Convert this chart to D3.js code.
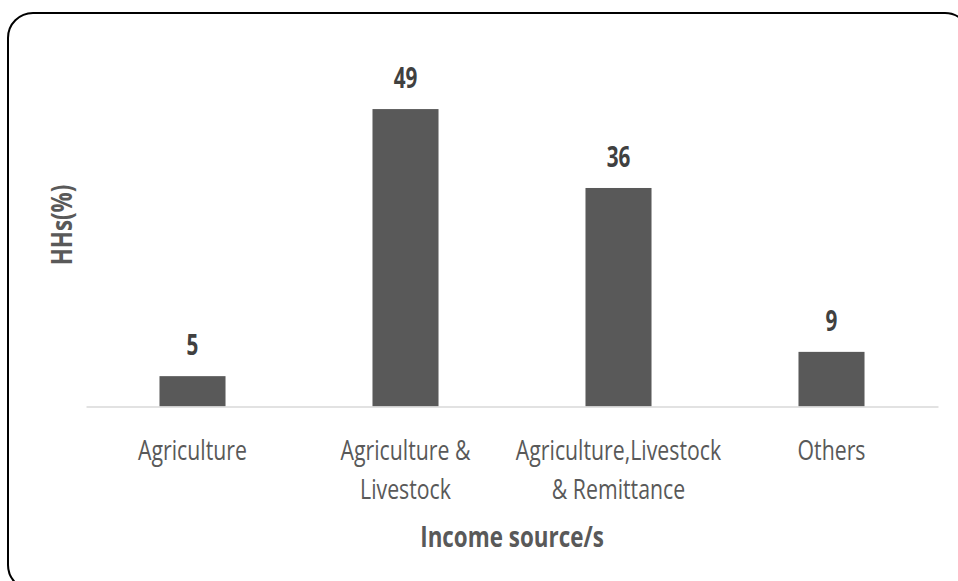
<!DOCTYPE html>
<html>
<head>
<meta charset="utf-8">
<script src="https://cdn.jsdelivr.net/npm/d3@7"></script>
<style>
  html, body { margin: 0; padding: 0; background: #fff; }
  svg { display: block; }
  text { font-family: "Open Sans", "Noto Sans", sans-serif; }
</style>
</head>
<body>
<svg id="chart" width="958" height="581"></svg>
<script>
const categories = [
  ["Agriculture"],
  ["Agriculture &", "Livestock"],
  ["Agriculture,Livestock", "& Remittance"],
  ["Others"]
];
const categoryKeys = ["Agriculture", "Agriculture & Livestock", "Agriculture,Livestock & Remittance", "Others"];
const values = [5, 49, 36, 9];
const xTitle = "Income source/s";
const yTitle = "HHs(%)";

const W = 958, H = 581;
const squeeze = 0.76;
const svg = d3.select("#chart");

// outer rounded border
svg.append("rect")
  .attr("x", 8).attr("y", 13)
  .attr("width", 962).attr("height", 577)
  .attr("rx", 25).attr("ry", 25)
  .attr("fill", "#fff")
  .attr("stroke", "#000")
  .attr("stroke-width", 2);

const x = d3.scaleBand()
  .domain(categoryKeys)
  .range([86, 938])
  .paddingInner(0.69)
  .paddingOuter(0.345);

const y = d3.scaleLinear()
  .domain([0, 60])
  .range([406.5, 406.5 - 60 * 6.07]);

// bars
svg.append("g").selectAll("rect")
  .data(values)
  .join("rect")
  .attr("x", (d, i) => x(categoryKeys[i]))
  .attr("width", x.bandwidth())
  .attr("y", d => y(d))
  .attr("height", d => y(0) - y(d))
  .attr("fill", "#595959");

// axis line
const xAxis = d3.axisBottom(x).tickSize(0).tickFormat("");
const gx = svg.append("g").attr("transform", `translate(0,${y(0)})`).call(xAxis);
gx.select(".domain").attr("stroke", "#d9d9d9").attr("stroke-width", 1.5);

function squeezed(parent, px, py, str, opts) {
  const g = parent.append("g").attr("transform", `translate(${px},${py}) scale(${opts.sx || squeeze},1)`);
  g.append("text")
    .attr("text-anchor", "middle")
    .attr("font-size", opts.size)
    .attr("font-weight", opts.weight || "normal")
    .attr("fill", opts.color)
    .text(str);
  return g;
}

// value labels
values.forEach((v, i) => {
  squeezed(svg, x(categoryKeys[i]) + x.bandwidth() / 2, y(v) - 21, String(v),
    { size: 28, weight: "bold", color: "#404040", sx: 0.74 });
});

// category labels
categories.forEach((lines, i) => {
  lines.forEach((ln, j) => {
    squeezed(svg, x(categoryKeys[i]) + x.bandwidth() / 2, 460 + j * 39, ln,
      { size: 28, color: "#595959", sx: 0.76 });
  });
});

// x title
squeezed(svg, 512, 547, xTitle, { size: 28, weight: "bold", color: "#595959", sx: 0.8 });

// y title
const gy = svg.append("g").attr("transform", `translate(72,225) rotate(-90) scale(0.8,1)`);
gy.append("text")
  .attr("text-anchor", "middle")
  .attr("font-size", 28)
  .attr("font-weight", "bold")
  .attr("fill", "#595959")
  .text(yTitle);
</script>
</body>
</html>
